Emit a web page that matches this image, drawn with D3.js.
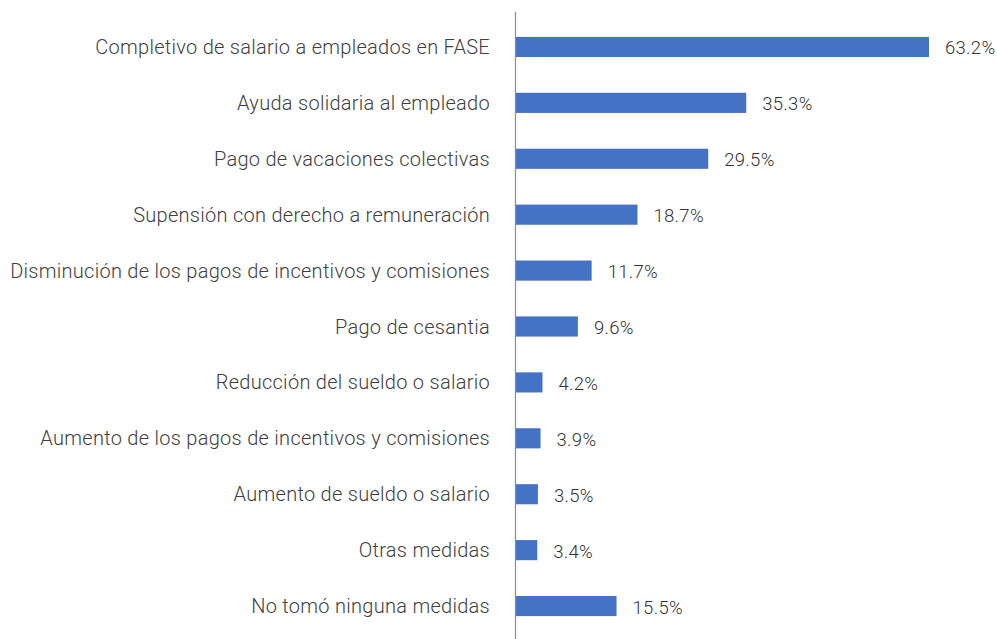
<!DOCTYPE html>
<html><head><meta charset="utf-8">
<script src="https://cdn.jsdelivr.net/npm/d3@7"></script>
<style>body{margin:0;background:#fff}svg{display:block}</style>
</head><body><div id="chart"></div>
<script>
const categories = [
  "Completivo de salario a empleados en FASE",
  "Ayuda solidaria al empleado",
  "Pago de vacaciones colectivas",
  "Supensión con derecho a remuneración",
  "Disminución de los pagos de incentivos y comisiones",
  "Pago de cesantia",
  "Reducción del sueldo o salario",
  "Aumento de los pagos de incentivos y comisiones",
  "Aumento de sueldo o salario",
  "Otras medidas",
  "No tomó ninguna medidas"
];
const values = [63.2, 35.3, 29.5, 18.7, 11.7, 9.6, 4.2, 3.9, 3.5, 3.4, 15.5];

const W = 997, H = 639;
const x0 = 515;
const svg = d3.select("#chart").append("svg").attr("width", W).attr("height", H);
const x = d3.scaleLinear().domain([0, 63.2]).range([x0, 929]);
const y = d3.scaleBand().domain(categories).range([19, 634]).paddingInner(0.64).paddingOuter(0.32);

svg.selectAll("rect.bar").data(values).join("rect")
  .attr("class", "bar")
  .attr("x", x(0))
  .attr("y", (d, i) => y(categories[i]))
  .attr("width", d => x(d) - x(0))
  .attr("height", y.bandwidth())
  .attr("fill", "#4472C4");

svg.append("line").attr("x1", x0 + 0.5).attr("x2", x0 + 0.5).attr("y1", 12).attr("y2", H)
  .attr("stroke", "#8c8c8c").attr("stroke-width", 1.2);

svg.append("g").selectAll("text").data(categories).join("text")
  .attr("transform", d => `translate(490,${y(d) + y.bandwidth() / 2})`)
  .attr("text-anchor", "end")
  .attr("dy", "0.35em")
  .attr("font-family", "Roboto")
  .attr("font-weight", 300)
  .attr("font-size", 20)
  .attr("letter-spacing", "0.28px")
  .attr("fill", "#404040")
  .text(d => d);

svg.append("g").selectAll("text").data(values).join("text")
  .attr("transform", (d, i) => `translate(${x(d) + 16},${y(categories[i]) + y.bandwidth() / 2 + 1})`)
  .attr("dy", "0.35em")
  .attr("font-family", "Roboto")
  .attr("font-weight", 300)
  .attr("font-size", 18.5)
  .attr("letter-spacing", "0.3px")
  .attr("fill", "#333333")
  .text(d => d.toFixed(1) + "%");
</script></body></html>
